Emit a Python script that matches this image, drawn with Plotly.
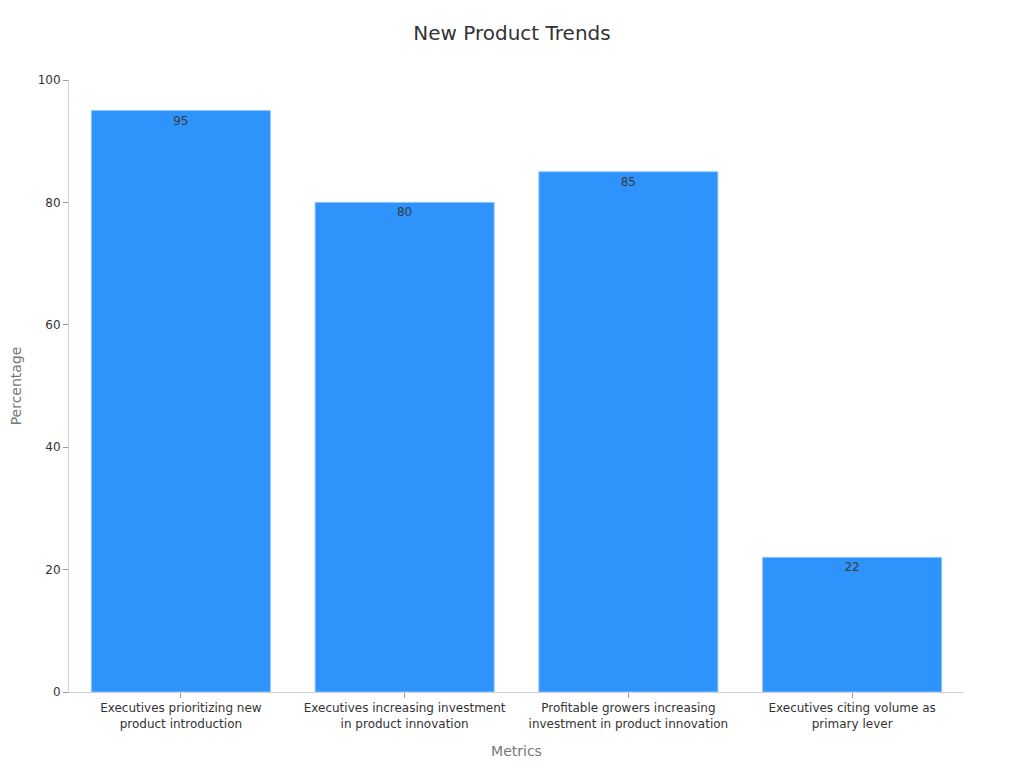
import plotly.graph_objects as go

categories = [
    "Executives prioritizing new<br>product introduction",
    "Executives increasing investment<br>in product innovation",
    "Profitable growers increasing<br>investment in product innovation",
    "Executives citing volume as<br>primary lever",
]
values = [95, 80, 85, 22]
y_ticks = [0, 20, 40, 60, 80, 100]

fig = go.Figure()

fig.add_trace(go.Bar(
    x=categories,
    y=values,
    text=values,
    textposition="inside",
    insidetextanchor="end",
    textfont=dict(color="#3a3a3a", size=12),
    marker=dict(color="#2E93FA", line=dict(color="#8cc4fb", width=1)),
    hoverinfo="x+y",
))

fig.update_layout(
    title=dict(text="New Product Trends", x=0.5, xanchor="center", y=0.976,
               font=dict(size=20, color="#333333")),
    font=dict(family="DejaVu Sans", size=12, color="#333333"),
    width=1008,
    height=752,
    margin=dict(l=61, r=52, t=72, b=68),
    paper_bgcolor="white",
    plot_bgcolor="white",
    bargap=0.2,
    showlegend=False,
    xaxis=dict(
        title=dict(text="Metrics", font=dict(size=14, color="#777777"), standoff=16),
        automargin=False,
        showline=True, linecolor="#d0d0d0", linewidth=1,
        ticks="outside", ticklen=5, tickcolor="#999999",
        showgrid=False, tickfont=dict(size=12, color="#333333"),
    ),
    yaxis=dict(
        title=dict(text="Percentage", font=dict(size=14, color="#777777"), standoff=18),
        automargin=False,
        range=[0, 100], tickvals=y_ticks,
        showline=True, linecolor="#d0d0d0", linewidth=1,
        ticks="outside", ticklen=5, tickcolor="#999999",
        showgrid=False, zeroline=False, tickfont=dict(size=12, color="#333333"),
    ),
)

fig.write_html("out.html")
